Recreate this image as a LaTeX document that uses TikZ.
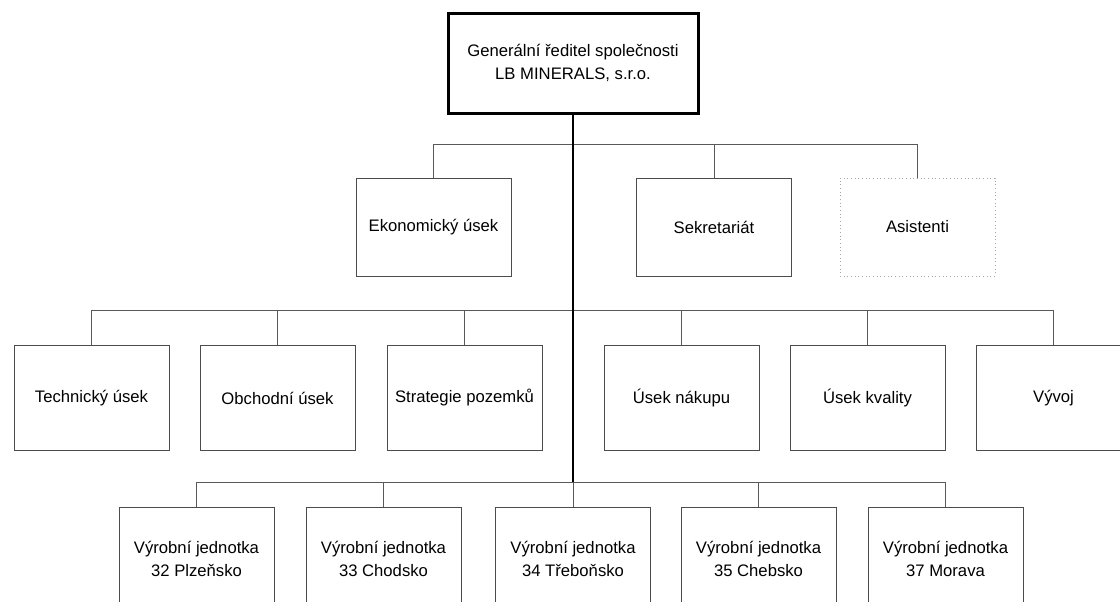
\documentclass[tikz,border=0pt]{standalone}
\usepackage{fontspec}
\setmainfont{Liberation Sans}

\begin{document}
\begin{tikzpicture}[
  x=0.75pt, y=-0.75pt,
  unit/.style={draw=black!70, line width=0.75pt, align=center, inner sep=0pt,
    minimum width=116.25pt, font=\fontsize{12.5}{17}\selectfont},
  dept/.style={unit, minimum height=73.5pt},
  office/.style={unit, minimum height=78.75pt},
  plant/.style={unit, minimum height=78pt},
  head/.style={unit, draw=black, line width=2.25pt, minimum width=187.5pt, minimum height=75pt},
  helper/.style={dept, draw=black!35, dotted},
  link/.style={draw=black!65, line width=0.75pt},
  trunk/.style={draw=black, line width=1.6pt},
  ]
  \useasboundingbox (0,0) rectangle (1120,601);
  \clip (0,0) rectangle (1120,601);

  %% Director
  \node[head] (gen) at (573,63) {Generální ředitel společnosti\\LB MINERALS, s.r.o.};

  % Staff level
  \node[dept] (eko) at (433.5,227) {Ekonomický úsek};
  \node[dept] (sekr) at (714,227) {Sekretariát};
  \node[helper] (asist) at (917.5,227) {Asistenti};

  % Departments
  \node[office] (tech) at (91.5,398) {Technický úsek};
  \node[office] (obch) at (277.5,398) {Obchodní úsek};
  \node[office] (strat) at (464.5,398) {Strategie pozemků};
  \node[office] (nakup) at (681.5,398) {Úsek nákupu};
  \node[office] (kval) at (867.5,398) {Úsek kvality};
  \node[office] (vyvoj) at (1053.5,398) {Vývoj};

  % Production units
  \node[plant] (plzen) at (196.5,559) {Výrobní jednotka\\32 Plzeňsko};
  \node[plant] (chod) at (383.5,559) {Výrobní jednotka\\33 Chodsko};
  \node[plant] (treb) at (573,559) {Výrobní jednotka\\34 Třeboňsko};
  \node[plant] (cheb) at (758.5,559) {Výrobní jednotka\\35 Chebsko};
  \node[plant] (morava) at (945.5,559) {Výrobní jednotka\\37 Morava};

  % Bus bars
  \coordinate (bus1) at (573,144);
  \coordinate (bus2) at (573,310);
  \coordinate (bus3) at (573,482);

  \draw[link] (eko.north |- bus1) -- (asist.north |- bus1);
  \draw[link] (tech.north |- bus2) -- (vyvoj.north |- bus2);
  \draw[link] (plzen.north |- bus3) -- (morava.north |- bus3);

  \foreach \n in {eko, sekr, asist}
    \draw[link] (\n.north |- bus1) -- (\n.north);
  \foreach \n in {tech, obch, strat, nakup, kval, vyvoj}
    \draw[link] (\n.north |- bus2) -- (\n.north);
  \foreach \n in {plzen, chod, treb, cheb, morava}
    \draw[link] (\n.north |- bus3) -- (\n.north);

  % Main line
  \draw[trunk] (gen.south) -- (bus3);

\end{tikzpicture}
\end{document}
